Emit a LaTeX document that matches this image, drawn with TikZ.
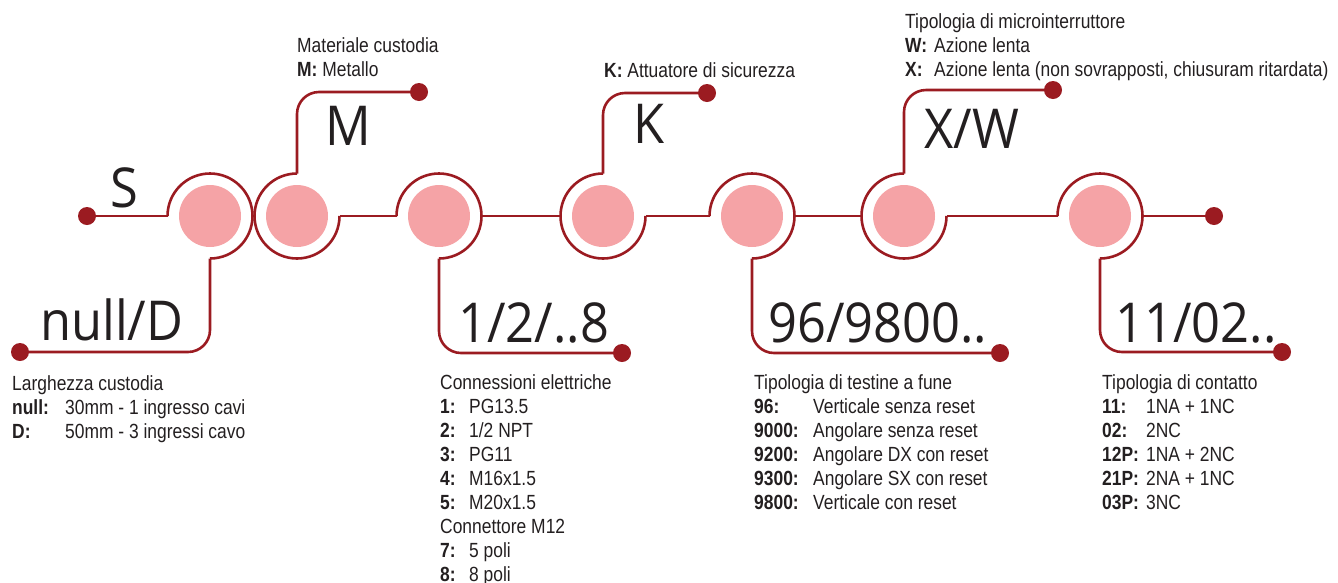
\documentclass[tikz,border=0pt]{standalone}
\usepackage{fontspec}
\setmainfont{Liberation Sans}[FakeStretch=0.85]
\newfontfamily\codefont{Open Sans}[FakeStretch=0.92]
\usepackage{xcolor}
\usepackage{tikz}
\usetikzlibrary{calc}
\definecolor{wirered}{HTML}{9B1B21}
\definecolor{discpink}{HTML}{F5A3A6}
\definecolor{inkblack}{HTML}{231F20}
\newcommand{\codeline}[3]{\makebox[#1][l]{\textbf{#2}}#3}

\begin{document}
\begin{tikzpicture}[x=1pt,y=1pt,
  wire/.style={wirered,line width=2.6pt},
  codelabel/.style={inner sep=0pt,anchor=base,text=inkblack,font=\codefont\fontsize{55}{55}\selectfont},
  legend/.style={inner sep=0pt,anchor=base west,align=left,text=inkblack,font=\fontsize{20.5}{24}\selectfont}]
\useasboundingbox (0,0) rectangle (1338,-582);
\foreach \n/\x in {1/210,2/297,3/439,4/603,5/752,6/904,7/1100}
  \coordinate (c\n) at (\x,-216);
\foreach \d/\x/\y in {dS/87/216,dD/20/352,dM/419/92,dE/622/353,dK/707/93,dT/1000/353,dX/1053/90,dR/1214/216,dC/1282/352}
  \coordinate (\d) at (\x,-\y);
% knobs
\foreach \n in {1,...,7} \fill[discpink] (c\n) circle (31);
\foreach \n in {1,3,5,7} \draw[wire] ([xshift=-42.5pt]c\n) arc[start angle=180,end angle=-90,radius=42.5];
\foreach \n in {2,4,6} \draw[wire] ([yshift=42.5pt]c\n) arc[start angle=90,end angle=360,radius=42.5];
% wires
\draw[wire] (dS) -- ([xshift=-42.5pt]c1);
\foreach \a/\b in {2/3,3/4,4/5,5/6,6/7} \draw[wire] ([xshift=42.5pt]c\a) -- ([xshift=-42.5pt]c\b);
\draw[wire] ([xshift=42.5pt]c7) -- (dR);
\foreach \n/\d in {1/dD,3/dE,5/dT,7/dC} \draw[wire,rounded corners=22pt] ([yshift=-42.5pt]c\n) |- (\d);
\foreach \n/\d in {2/dM,4/dK,6/dX} \draw[wire,rounded corners=22pt] ([yshift=42.5pt]c\n) |- (\d);
\foreach \d in {dS,dD,dM,dE,dK,dT,dX,dR,dC} \fill[wirered] (\d) circle (9);
% codes
\node[codelabel] (kS) at (124,-207) {S};
\node[codelabel] (kM) at (348,-145) {M};
\node[codelabel] (kK) at (649,-143) {K};
\node[codelabel] (kX) at (972,-148) {X/W};
\node[codelabel,anchor=base west] (kD) at (40,-340) {null/D};
\node[codelabel,anchor=base west] (kE) at (458,-342) {1/2/..8};
\node[codelabel,anchor=base west] (kT) at (768,-342) {96/9800..};
\node[codelabel,anchor=base west] (kC) at (1115,-342) {11/02..};
% legends (base = last line)
\node[legend] (lM) at (297,-76) {Materiale custodia\\\textbf{M:} Metallo};
\node[legend] (lK) at (604,-77) {\textbf{K:} Attuatore di sicurezza};
\node[legend] (lX) at (905,-76) {Tipologia di microinterruttore\\
  \codeline{29pt}{W:}{Azione lenta}\\
  \codeline{29pt}{X:}{Azione lenta (non sovrapposti, chiusuram ritardata)}};
\node[legend] (lD) at (12,-438) {Larghezza custodia\\
  \codeline{53pt}{null:}{30mm - 1 ingresso cavi}\\
  \codeline{53pt}{D:}{50mm - 3 ingressi cavo}};
\node[legend] (lE) at (440,-581) {Connessioni elettriche\\
  \codeline{29pt}{1:}{PG13.5}\\ \codeline{29pt}{2:}{1/2 NPT}\\ \codeline{29pt}{3:}{PG11}\\
  \codeline{29pt}{4:}{M16x1.5}\\ \codeline{29pt}{5:}{M20x1.5}\\ Connettore M12\\
  \codeline{29pt}{7:}{5 poli}\\ \codeline{29pt}{8:}{8 poli}};
\node[legend] (lT) at (754,-509) {Tipologia di testine a fune\\
  \codeline{59pt}{96:}{Verticale senza reset}\\ \codeline{59pt}{9000:}{Angolare senza reset}\\
  \codeline{59pt}{9200:}{Angolare DX con reset}\\ \codeline{59pt}{9300:}{Angolare SX con reset}\\
  \codeline{59pt}{9800:}{Verticale con reset}};
\node[legend] (lC) at (1102,-509) {Tipologia di contatto\\
  \codeline{44pt}{11:}{1NA + 1NC}\\ \codeline{44pt}{02:}{2NC}\\ \codeline{44pt}{12P:}{1NA + 2NC}\\
  \codeline{44pt}{21P:}{2NA + 1NC}\\ \codeline{44pt}{03P:}{3NC}};
\end{tikzpicture}
\end{document}
